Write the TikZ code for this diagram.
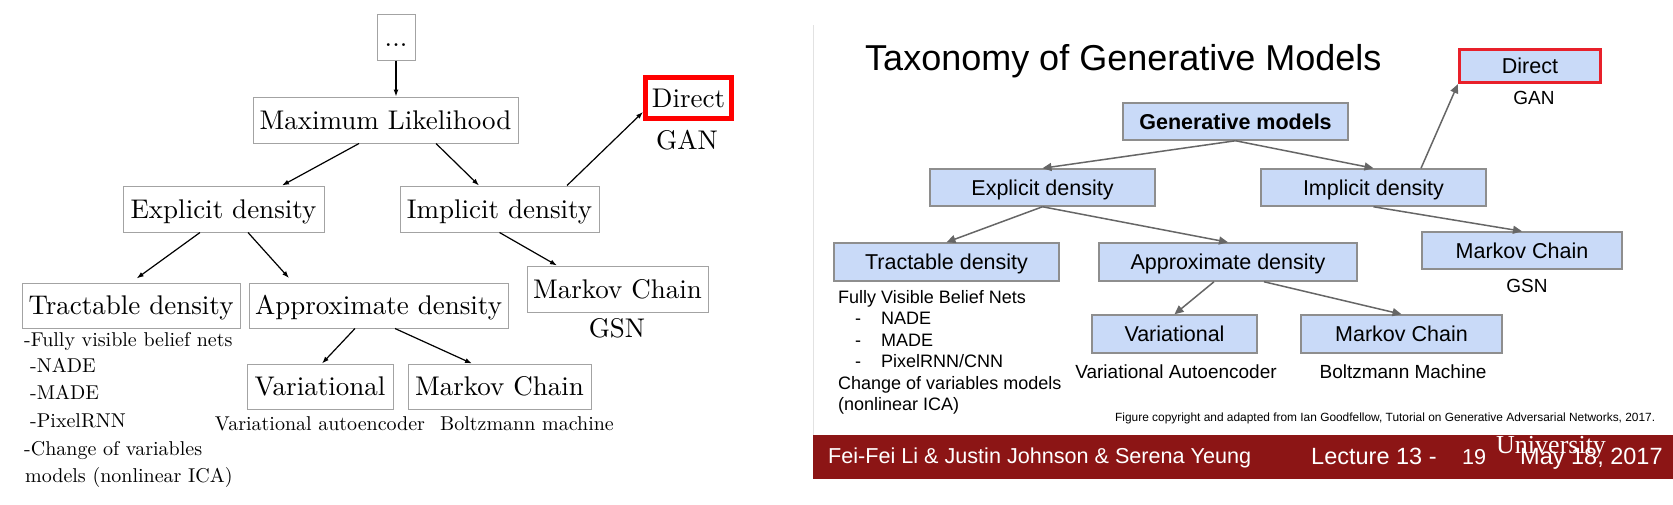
\documentclass[tikz,border=0pt]{standalone}
\usepackage{fontspec}
\usepackage{tikz}
\usetikzlibrary{arrows.meta}
\setmainfont{lmroman10-regular}[Extension=.otf]
\newfontfamily\slidefam{Liberation Sans}
\newfontfamily\logofam{Liberation Serif}
\definecolor{boxgray}  {HTML}{A3A3A3}
\definecolor{slideblue}{HTML}{C9DAF8}
\definecolor{slideedge}{HTML}{8E8E8E}
\definecolor{arrowgray}{HTML}{666666}
\definecolor{hiliteL}  {HTML}{FF0000}
\definecolor{hiliteR}  {HTML}{E8202A}
\definecolor{cardinal} {HTML}{8C1515}
\definecolor{frameline}{HTML}{E2E2E2}
\newcommand{\lmbox}     {\fontsize{27}{32}\selectfont}
\newcommand{\lmnote}    {\fontsize{20}{27}\selectfont}
\newcommand{\titlesize} {\fontsize{36}{42}\selectfont}
\newcommand{\boxsize}   {\fontsize{21.5}{26}\selectfont}
\newcommand{\capsize}   {\fontsize{19}{23}\selectfont}
\newcommand{\notesize}  {\fontsize{18}{22}\selectfont}
\newcommand{\creditsize}{\fontsize{11.9}{14}\selectfont}
\newcommand{\footsize}  {\fontsize{21.6}{26}\selectfont}
\newcommand{\datesize}  {\fontsize{23.5}{28}\selectfont}
\newcommand{\logosize}  {\fontsize{26}{30}\selectfont}

\begin{document}
\begin{tikzpicture}[x=1pt, y=-1pt,
  lbox/.style={draw=boxgray, line width=1pt, fill=white, font=\lmbox, inner sep=0pt,
    minimum height=46pt, text height=18.5pt, text depth=0pt},
  rbox/.style={draw=slideedge, fill=slideblue, line width=1.5pt, font=\slidefam\boxsize,
    inner sep=0pt, minimum height=37pt, text height=15.4pt, text depth=0pt},
  larrow/.style={-{Latex[length=7pt,width=5pt]}, line width=1.2pt, black},
  rarrow/.style={-{Triangle[length=9pt,width=8pt]}, line width=1.5pt, arrowgray},
  lnote/.style={font=\lmnote, inner sep=0pt, anchor=base},
  rnote/.style={font=\slidefam\capsize, inner sep=0pt, anchor=base},
  foottext/.style={text=white, inner sep=0pt, anchor=base west}]
  \useasboundingbox (0,0) rectangle (1673,504);

  % left: the tree in plain boxes
  \node[lbox, minimum width=38pt] (dotsL) at (396,37) {...};
  \node[lbox, minimum width=265pt] (mlL) at (385.5,120) {Maximum Likelihood};
  \node[lbox, minimum width=201pt] (expL) at (223.5,209) {Explicit density};
  \node[lbox, minimum width=199pt] (impL) at (499.5,209) {Implicit density};
  \node[lbox, draw=hiliteL, line width=5pt, minimum width=86pt, minimum height=41pt]
    (dirL) at (688.5,98) {Direct};
  \node[lnote, font=\lmbox] (ganL) at (687,149) {GAN};
  \node[lbox, minimum width=181pt] (mcgL) at (617.5,289) {Markov Chain};
  \node[lnote, font=\lmbox] (gsnL) at (617,337) {GSN};
  \node[lbox, minimum width=218pt, minimum height=45pt] (trcL) at (131,305.5) {Tractable density};
  \node[lbox, minimum width=259pt, minimum height=45pt] (aprL) at (378.5,305.5) {Approximate density};
  \node[lbox, minimum width=146pt, minimum height=45pt] (varL) at (320,386.5) {Variational};
  \node[lbox, minimum width=183pt, minimum height=45pt] (mcbL) at (499.5,386.5) {Markov Chain};
  \node[lnote] (vaeL) at (320,430) {Variational autoencoder};
  \node[lnote] (bmL) at (527,430) {Boltzmann machine};
  \foreach \yy/\xx/\txt [count=\i] in {346/24/{-Fully visible belief nets}, 372/30/-NADE,
      399/30/-MADE, 427/30/-PixelRNN, 455/24/{-Change of variables}, 482/25/{models (nonlinear ICA)}}
    \node[lnote, anchor=base west] (fvL\i) at (\xx,\yy) {\txt};

  \draw[larrow] (dotsL.south) -- (dotsL.south |- mlL.north);
  \draw[larrow] ([xshift=-26.5pt]mlL.south) -- ([xshift=58.5pt]expL.north);
  \draw[larrow] ([xshift=50.5pt]mlL.south) -- ([xshift=-20.5pt]impL.north);
  \draw[larrow] ([xshift=67.5pt]impL.north) -- ([yshift=-14pt]dirL.west);
  \draw[larrow] (impL.south) -- ([xshift=-60.5pt]mcgL.north);
  \draw[larrow, shorten >=7pt] ([xshift=-23.5pt]expL.south) -- (trcL.north);
  \draw[larrow, shorten >=6pt] ([xshift=24.5pt]expL.south) -- ([xshift=-85.5pt]aprL.north);
  \draw[larrow] ([xshift=-23.5pt]aprL.south) -- ([xshift=2pt]varL.north);
  \draw[larrow] ([xshift=16.5pt]aprL.south) -- ([xshift=-27.5pt]mcbL.north);

  % right: the slide
  \draw[frameline, line width=1pt] (813,25) -- (813,435);
  \fill[cardinal] (813,435) rectangle (1673,479);
  \node[font=\slidefam\titlesize, inner sep=0pt, anchor=base west] (title) at (865,70)
    {Taxonomy of Generative Models};
  \node[rbox, font=\slidefam\bfseries\boxsize, minimum width=225pt] (genR) at (1235.5,121.5)
    {Generative models};
  \node[rbox, minimum width=225pt] (expR) at (1042.5,187.5) {Explicit density};
  \node[rbox, minimum width=225pt] (impR) at (1373.5,187.5) {Implicit density};
  \node[rbox, draw=hiliteR, line width=3.3pt, minimum width=141pt, minimum height=33pt]
    (dirR) at (1530,66) {Direct};
  \node[rnote] (ganR) at (1534,104) {GAN};
  \node[rbox, minimum width=200pt] (mcgR) at (1522,250.5) {Markov Chain};
  \node[rnote] (gsnR) at (1527,292) {GSN};
  \node[rbox, minimum width=225pt, minimum height=38pt] (trcR) at (946.5,262) {Tractable density};
  \node[rbox, minimum width=258pt, minimum height=38pt] (aprR) at (1228,262) {Approximate density};
  \node[rbox, minimum width=165pt, minimum height=38pt] (varR) at (1174.5,334) {Variational};
  \node[rbox, minimum width=201pt, minimum height=38pt] (mcbR) at (1401.5,334) {Markov Chain};
  \node[rnote] (vaeR) at (1176,378) {Variational Autoencoder};
  \node[rnote] (bmR) at (1403,378) {Boltzmann Machine};
  \foreach \yy/\txt [count=\i] in {303/{Fully Visible Belief Nets},
      389/{Change of variables models}, 410.5/{(nonlinear ICA)}}
    \node[rnote, font=\slidefam\notesize, anchor=base west] (fvR\i) at (838,\yy) {\txt};
  \foreach \yy/\txt [count=\i] in {324.5/NADE, 346/MADE, 367.5/{PixelRNN/CNN}} {
    \node[rnote, font=\slidefam\notesize, anchor=base west] (dashR\i) at (855,\yy) {-};
    \node[rnote, font=\slidefam\notesize, anchor=base west] (itemR\i) at (881,\yy) {\txt};
  }
  \node[font=\slidefam\creditsize, inner sep=0pt, anchor=base west] (credit) at (1115,421)
    {Figure copyright and adapted from Ian Goodfellow, Tutorial on Generative Adversarial Networks, 2017.};

  \draw[rarrow] (genR.south) -- (expR.north);
  \draw[rarrow] (genR.south) -- (impR.north);
  \draw[rarrow] ([xshift=47.5pt]impR.north) -- (dirR.south west);
  \draw[rarrow] (impR.south) -- (mcgR.north);
  \draw[rarrow] (expR.south) -- (trcR.north);
  \draw[rarrow] (expR.south) -- (aprR.north);
  \draw[rarrow] ([xshift=-14pt]aprR.south) -- (varR.north);
  \draw[rarrow] ([xshift=36pt]aprR.south) -- (mcbR.north);

  % footer bar
  \node[foottext, font=\slidefam\footsize] (authors) at (828,463)
    {Fei-Fei Li \& Justin Johnson \& Serena Yeung};
  \node[foottext, font=\slidefam\datesize] (lecture) at (1311,464) {Lecture 13 -};
  \node[foottext, font=\slidefam\footsize] (pageno) at (1462,464) {19};
  \node[foottext, font=\slidefam\datesize] (date) at (1520,464) {May 18, 2017};
  \node[foottext, font=\logofam\logosize] (univ) at (1496,453) {University};
\end{tikzpicture}
\end{document}
